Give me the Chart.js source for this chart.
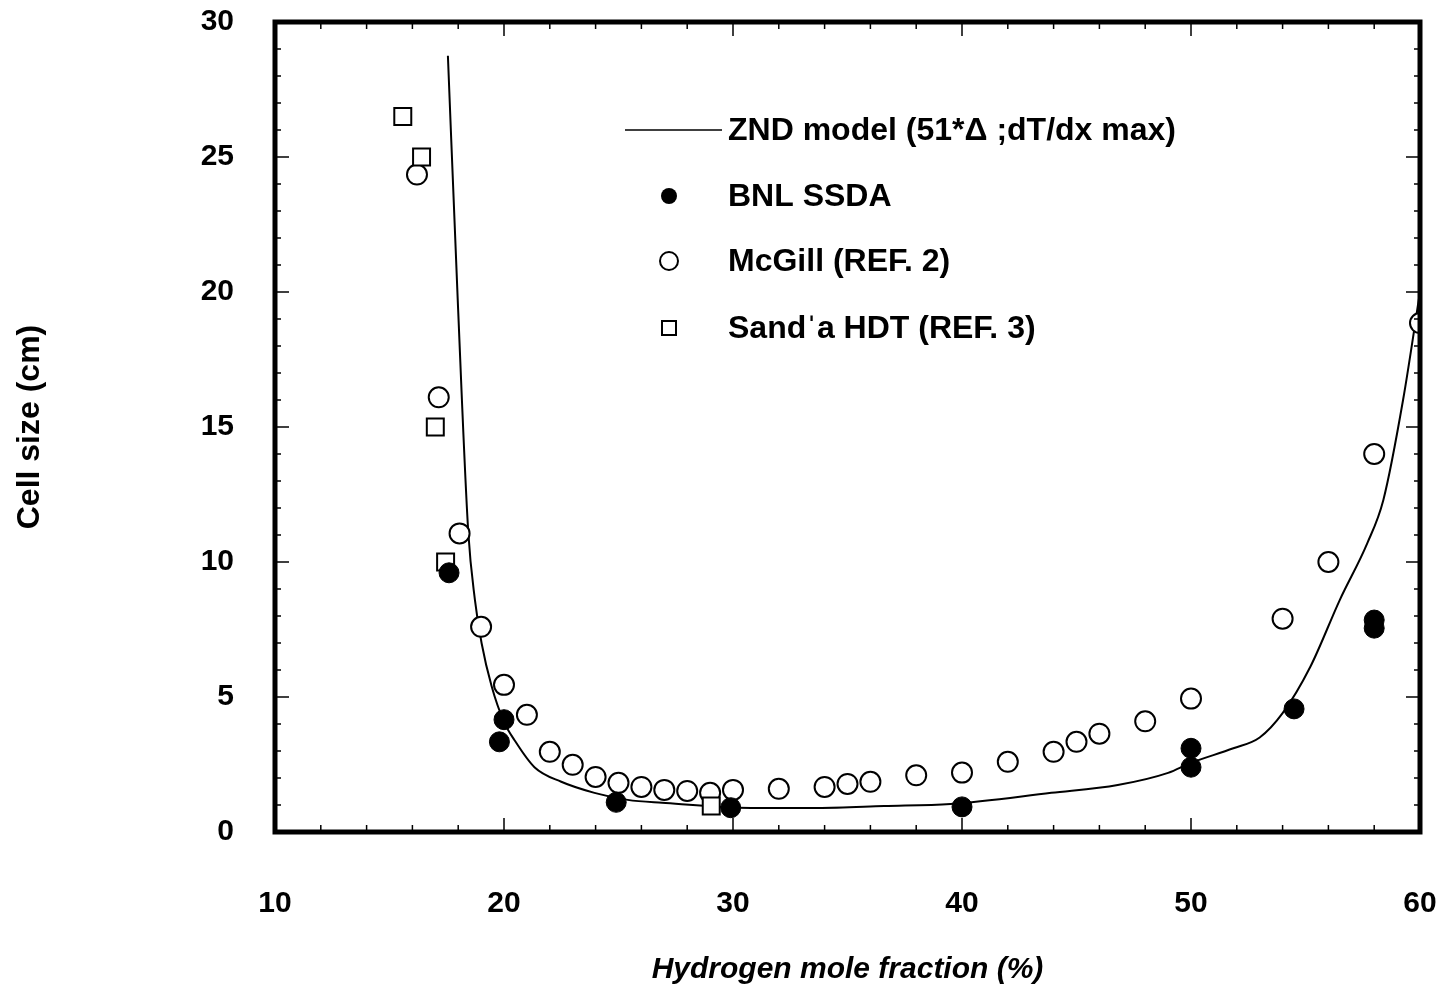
<!DOCTYPE html>
<html>
<head>
<meta charset="utf-8">
<script src="https://cdn.jsdelivr.net/npm/chart.js@4.4.1/dist/chart.umd.min.js"></script>
<style>
  body { margin: 0; background: #fff; }
  #wrap { width: 1443px; height: 997px; }
</style>
</head>
<body>
<div id="wrap"><canvas id="cell_chart"></canvas></div>
<script>
// ZND model curve
var zndX = [17.55, 17.98, 18.44, 18.73, 19.02, 19.46, 20.0, 20.46, 21.33, 22.5, 23.95, 25.4, 26.9, 30.8, 33.7, 36.6, 39.5, 43.9, 46.8, 49.0, 50.0, 51.85, 53.0, 54.0, 55.2, 56.5, 57.7, 58.4, 59.26, 60.0];
var zndY = [28.75, 19.7, 11.1, 8.6, 7.0, 5.4, 4.08, 3.4, 2.4, 1.86, 1.45, 1.19, 1.08, 0.89, 0.89, 0.96, 1.04, 1.45, 1.74, 2.19, 2.56, 3.1, 3.5, 4.4, 6.1, 8.6, 10.7, 12.3, 16.0, 20.0];

// BNL SSDA (filled)
var bnlX = [17.6, 19.8, 20.0, 24.9, 29.9, 40.0, 50.0, 50.0, 54.5, 58.0, 58.0];
var bnlY = [9.6, 3.34, 4.16, 1.1, 0.9, 0.93, 3.1, 2.4, 4.56, 7.85, 7.55];

// McGill (REF. 2) (open circles)
var mcgillX = [16.2, 17.15, 18.06, 19.0, 20.0, 21.0, 22.0, 23.0, 24.0, 25.0, 26.0, 27.0, 28.0, 29.0, 30.0, 32.0, 34.0, 35.0, 36.0, 38.0, 40.0, 42.0, 44.0, 45.0, 46.0, 48.0, 50.0, 54.0, 56.0, 58.0, 60.0];
var mcgillY = [24.35, 16.1, 11.06, 7.6, 5.45, 4.34, 2.97, 2.49, 2.04, 1.82, 1.67, 1.56, 1.52, 1.45, 1.56, 1.6, 1.67, 1.78, 1.86, 2.1, 2.2, 2.6, 2.97, 3.34, 3.64, 4.1, 4.94, 7.9, 10.0, 14.0, 18.85];

// Sandia HDT (REF. 3) (open squares)
var sandiaX = [15.58, 16.4, 17.0, 17.45, 29.05];
var sandiaY = [26.5, 25.0, 15.0, 10.0, 0.96];

var xTicks = [10, 20, 30, 40, 50, 60];
var yTicks = [0, 5, 10, 15, 20, 25, 30];

var legendLabels = ['ZND model (51*\u0394 ;dT/dx max)', 'BNL SSDA', 'McGill (REF. 2)', 'Sand\u02c8a HDT (REF. 3)'];

var FONT = '"Liberation Sans", Arial, Helvetica, sans-serif';

function toPoints(xs, ys) {
    return xs.map(function (x, i) { return { x: x, y: ys[i] }; });
}

// no extra room for edge labels, the frame sits where the original has it
function noEdgePadding(s) {
    s.paddingTop = 0;
    s.paddingBottom = 0;
    s.paddingLeft = 0;
    s.paddingRight = 0;
}

// frame, inward ticks and the legend box drawn on top of the chart area
var framePlugin = {
    id: 'frame',
    afterDraw: function (chart) {
        var ctx = chart.ctx;
        var a = chart.chartArea;
        var xs = chart.scales.x, ys = chart.scales.y;
        ctx.save();
        ctx.strokeStyle = '#000';
        ctx.lineWidth = 1.5;
        ctx.beginPath();
        for (var v = 10; v <= 60; v += 2) {
            var px = xs.getPixelForValue(v);
            var len = (v % 10 === 0) ? 14 : 7;
            ctx.moveTo(px, a.bottom); ctx.lineTo(px, a.bottom - len);
            ctx.moveTo(px, a.top); ctx.lineTo(px, a.top + len);
        }
        for (var w = 0; w <= 30; w += 1) {
            var py = ys.getPixelForValue(w);
            var l2 = (w % 5 === 0) ? 14 : 6;
            ctx.moveTo(a.left, py); ctx.lineTo(a.left + l2, py);
            ctx.moveTo(a.right, py); ctx.lineTo(a.right - l2, py);
        }
        ctx.stroke();
        ctx.lineWidth = 5;
        ctx.strokeRect(a.left, a.top, a.right - a.left, a.bottom - a.top);

        // legend
        ctx.font = 'bold 32px ' + FONT;
        ctx.fillStyle = '#000';
        ctx.textBaseline = 'middle';
        ctx.textAlign = 'left';
        var rows = [130, 196, 261, 328];
        ctx.lineWidth = 1.5;
        ctx.beginPath();
        ctx.moveTo(625, rows[0]); ctx.lineTo(722, rows[0]);
        ctx.stroke();
        ctx.beginPath();
        ctx.arc(669, rows[1], 8, 0, Math.PI * 2);
        ctx.fill();
        ctx.lineWidth = 2;
        ctx.beginPath();
        ctx.arc(669, rows[2], 9, 0, Math.PI * 2);
        ctx.stroke();
        ctx.strokeRect(662, rows[3] - 7, 14, 14);
        for (var i = 0; i < legendLabels.length; i++) {
            ctx.fillText(legendLabels[i], 728, rows[i] + 1);
        }
        ctx.restore();
    }
};

var ctx = document.getElementById('cell_chart').getContext('2d');

var cellChart = new Chart(ctx, {
    type: 'scatter',
    data: {
        datasets: [
            {
                label: 'ZND model',
                data: toPoints(zndX, zndY),
                showLine: true,
                borderColor: '#000',
                borderWidth: 2,
                pointRadius: 0,
                cubicInterpolationMode: 'monotone',
                order: 4
            },
            {
                label: 'McGill (REF. 2)',
                data: toPoints(mcgillX, mcgillY),
                pointStyle: 'circle',
                pointRadius: 10,
                pointBorderWidth: 2,
                pointBorderColor: '#000',
                pointBackgroundColor: '#fff',
                order: 3
            },
            {
                label: 'Sandia HDT (REF. 3)',
                data: toPoints(sandiaX, sandiaY),
                pointStyle: 'rect',
                pointRadius: 12,
                pointBorderWidth: 2,
                pointBorderColor: '#000',
                pointBackgroundColor: '#fff',
                order: 2
            },
            {
                label: 'BNL SSDA',
                data: toPoints(bnlX, bnlY),
                pointStyle: 'circle',
                pointRadius: 10,
                pointBorderWidth: 1,
                pointBorderColor: '#000',
                pointBackgroundColor: '#000',
                order: 1
            }
        ]
    },
    options: {
        responsive: true,
        maintainAspectRatio: false,
        animation: false,
        layout: { padding: { left: 0, right: 23, top: 22, bottom: 0 } },
        plugins: {
            legend: { display: false },
            tooltip: { enabled: false }
        },
        scales: {
            x: {
                type: 'linear',
                min: 10,
                max: 60,
                afterFit: function (s) { s.height = 165; noEdgePadding(s); },
                afterBuildTicks: function (s) { s.ticks = xTicks.map(function (v) { return { value: v }; }); },
                grid: { display: false, drawTicks: false },
                border: { display: false },
                ticks: {
                    padding: 54,
                    color: '#000',
                    font: { family: FONT, size: 30, weight: 'bold' }
                },
                title: {
                    display: true,
                    text: 'Hydrogen mole fraction (%)',
                    color: '#000',
                    font: { family: FONT, size: 30, weight: 'bold', style: 'italic' },
                    padding: { top: 0, bottom: 9 }
                }
            },
            y: {
                type: 'linear',
                min: 0,
                max: 30,
                afterFit: function (s) { s.width = 275; noEdgePadding(s); },
                afterBuildTicks: function (s) { s.ticks = yTicks.map(function (v) { return { value: v }; }); },
                grid: { display: false, drawTicks: false },
                border: { display: false },
                ticks: {
                    padding: 41,
                    color: '#000',
                    font: { family: FONT, size: 30, weight: 'bold' }
                },
                title: {
                    display: true,
                    text: 'Cell size (cm)',
                    color: '#000',
                    font: { family: FONT, size: 32, weight: 'bold' },
                    padding: { top: 11, bottom: 0 }
                }
            }
        }
    },
    plugins: [framePlugin]
});
</script>
</body>
</html>
